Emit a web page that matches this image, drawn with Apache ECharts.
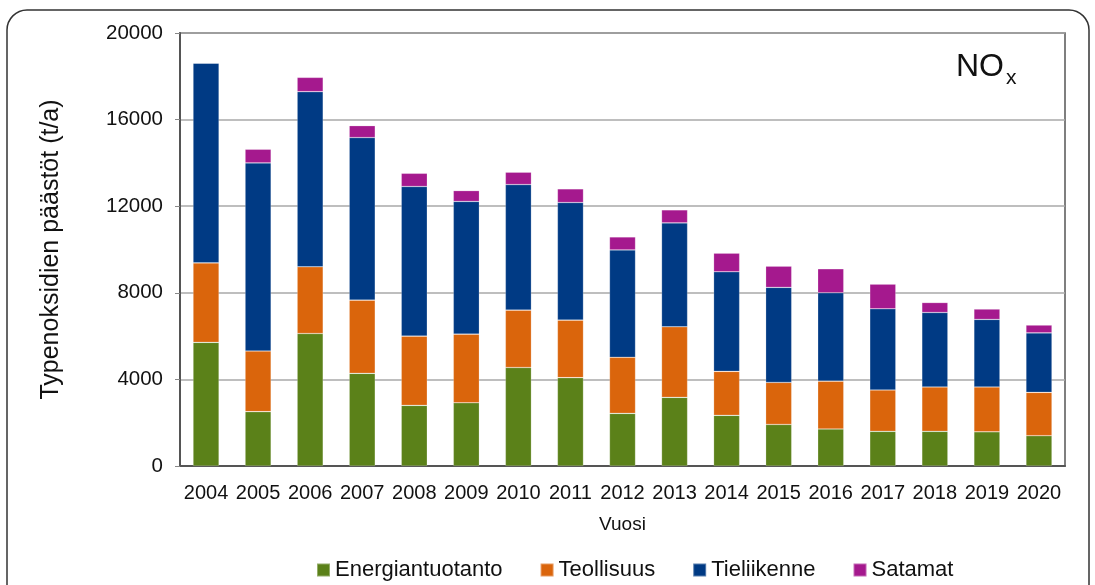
<!DOCTYPE html>
<html>
<head>
<meta charset="utf-8">
<script src="https://cdn.jsdelivr.net/npm/echarts@6/dist/echarts.min.js"></script>
<style>
html,body{margin:0;padding:0;background:#fff;}
#chart{width:1095px;height:585px;}
</style>
</head>
<body>
<div id="chart"></div>
<script>
const years = ['2004','2005','2006','2007','2008','2009','2010','2011','2012','2013','2014','2015','2016','2017','2018','2019','2020'];
const energiantuotanto = [5710,2510,6120,4280,2800,2920,4550,4080,2430,3170,2340,1920,1710,1600,1600,1580,1400];
const teollisuus       = [3670,2800,3080,3380,3200,3170,2650,2660,2590,3260,2030,1940,2210,1910,2050,2070,2000];
const tieliikenne      = [9230,8690,8090,7510,6910,6130,5800,5430,4960,4800,4600,4390,4080,3750,3440,3120,2750];
const satamat          = [0,630,660,550,610,500,570,630,600,600,860,980,1110,1140,460,480,360];
const yTicks = [0,4000,8000,12000,16000,20000];

const font = 'Liberation Sans, Arial, sans-serif';
const chart = echarts.init(document.getElementById('chart'), null, {renderer:'canvas'});

function bar(name, data, color){
  return {name, type:'bar', stack:'total', data, barWidth:'50%',
    itemStyle:{color, borderColor:'rgba(255,255,255,0.35)', borderWidth:0.6},
    emphasis:{disabled:true}};
}

chart.setOption({
  animation:false,
  backgroundColor:'#fff',
  textStyle:{fontFamily:font},
  grid:{left:180, right:30, top:33, bottom:119, show:true, borderColor:'#555', borderWidth:1.5, backgroundColor:'transparent'},
  legend:{
    left:311, top:553, itemWidth:13, itemHeight:13, itemGap:37, icon:'rect',
    textStyle:{fontFamily:font, fontSize:22, color:'#111', lineHeight:24},
    data:['Energiantuotanto','Teollisuus','Tieliikenne','Satamat']
  },
  xAxis:{
    type:'category', data:years,
    name:'Vuosi', nameLocation:'middle', nameGap:49,
    nameTextStyle:{fontFamily:font, fontSize:19, color:'#111'},
    axisLine:{lineStyle:{color:'#555', width:2}},
    axisTick:{show:false},
    axisLabel:{fontFamily:font, fontSize:20, color:'#111', margin:17, interval:0}
  },
  yAxis:{
    type:'value', min:yTicks[0], max:yTicks[yTicks.length-1], interval:4000,
    name:'Typenoksidien päästöt (t/a)', nameLocation:'middle', nameGap:116,
    nameTextStyle:{fontFamily:font, fontSize:25, color:'#111'},
    axisLine:{show:true, lineStyle:{color:'#555', width:2}},
    axisTick:{show:true, length:5, lineStyle:{color:'#888'}},
    axisLabel:{fontFamily:font, fontSize:20.5, color:'#111', margin:17, formatter:function(v){return String(v);}},
    splitLine:{lineStyle:{color:'#A8A8A8', width:1.5}}
  },
  graphic:[
    {type:'rect', shape:{x:7, y:10, width:1082, height:620, r:20}, style:{fill:'none', stroke:'#333', lineWidth:1.5}, z:-1, silent:true},
    {type:'text', left:956, top:51, style:{text:'NO', fontFamily:font, fontSize:32, fill:'#111'}, z:10},
    {type:'text', left:1006, top:68, style:{text:'x', fontFamily:font, fontSize:21, fill:'#111'}, z:10}
  ],
  series:[
    bar('Energiantuotanto', energiantuotanto, '#5B8119'),
    bar('Teollisuus', teollisuus, '#DA650C'),
    bar('Tieliikenne', tieliikenne, '#003A84'),
    bar('Satamat', satamat, '#A5198E')
  ]
});
</script>
</body>
</html>
